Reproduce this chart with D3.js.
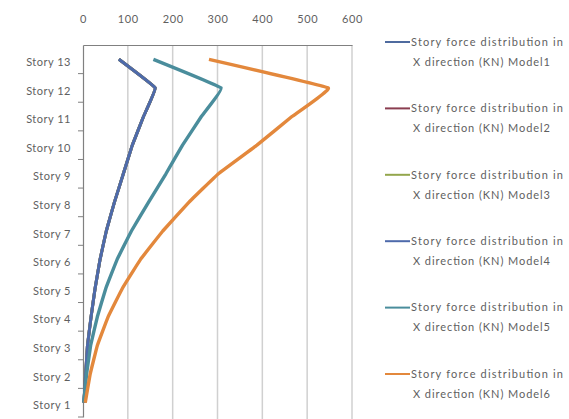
<!DOCTYPE html>
<html>
<head>
<meta charset="utf-8">
<script src="https://cdn.jsdelivr.net/npm/d3@7"></script>
<style>
  body { margin: 0; background: #fff; }
  text { font-family: Lato, "Open Sans", sans-serif; fill: #5f5f5f; }
</style>
</head>
<body>
<script>
const width = 569;
const height = 419;

// data
const stories = ["Story 1", "Story 2", "Story 3", "Story 4", "Story 5", "Story 6", "Story 7",
                 "Story 8", "Story 9", "Story 10", "Story 11", "Story 12", "Story 13"];
const xTicks = [0, 100, 200, 300, 400, 500, 600];
const model1 = [2, 6, 10, 18, 27, 38, 52, 70, 90, 110, 135, 161, 80];
const model2 = [2, 6, 10, 18, 27, 38, 52, 70, 90, 110, 135, 161, 80];
const model3 = [2, 6, 10, 18, 27, 38, 52, 70, 90, 110, 135, 161, 80];
const model4 = [2, 6, 10, 18, 27, 38, 52, 70, 90, 110, 135, 161, 80];
const model5 = [2, 8, 17, 32, 51, 76, 108, 146, 185, 222, 264, 308, 157];
const model6 = [5, 16, 32, 56, 88, 128, 178, 236, 302, 388, 466, 547, 281];
const seriesNames = [
  "Model1", "Model2", "Model3", "Model4", "Model5", "Model6"
];
const seriesValues = [model1, model2, model3, model4, model5, model6];
const seriesColors = ["#4f6b9f", "#8a3d50", "#93a64c", "#4e6aab", "#4a8d9c", "#e3883c"];

const svg = d3.select("body")
    .append("svg")
    .attr("width", width)
    .attr("height", height);

const x = d3.scaleLinear().domain([0, 600]).range([83, 352]);
const y = d3.scaleBand().domain(stories.slice().reverse()).range([45, 417]);

// vertical gridlines
svg.append("g")
    .selectAll("line")
    .data(xTicks.slice(1))
    .enter()
    .append("line")
    .attr("x1", d => x(d))
    .attr("x2", d => x(d))
    .attr("y1", 45)
    .attr("y2", height)
    .attr("stroke", "#d0d0d0")
    .attr("stroke-width", 1.5);

// top axis
const xAxis = svg.append("g")
    .attr("transform", "translate(0,45)")
    .call(d3.axisTop(x).tickValues(xTicks).tickSize(0).tickPadding(22));
xAxis.select(".domain").attr("stroke", "#808080").attr("stroke-width", 1.2);
xAxis.selectAll("text")
    .style("font-family", "Lato, 'Open Sans', sans-serif")
    .style("font-size", "11px")
    .style("letter-spacing", "0.6px")
    .attr("fill", "#5f5f5f");

// left axis
const yAxis = svg.append("g")
    .attr("transform", "translate(83,0)")
    .call(d3.axisLeft(y).tickSize(0).tickPadding(12));
yAxis.select(".domain").attr("stroke", "#808080").attr("stroke-width", 1.2);
yAxis.selectAll("text")
    .attr("dy", "0.6em")
    .style("font-family", "Lato, 'Open Sans', sans-serif")
    .style("font-size", "11px")
    .style("letter-spacing", "0.5px")
    .attr("fill", "#5f5f5f");

// category boundary ticks
svg.append("g")
    .selectAll("line")
    .data(stories)
    .enter()
    .append("line")
    .attr("x1", 78)
    .attr("x2", 83)
    .attr("y1", d => y(d) + y.bandwidth())
    .attr("y2", d => y(d) + y.bandwidth())
    .attr("stroke", "#808080");

// lightly smoothed lines
const line = d3.line()
    .x(d => x(d.v))
    .y(d => y(d.s) + y.bandwidth() / 2)
    .curve(d3.curveCardinal.tension(0.8));

seriesValues.forEach((vals, i) => {
    svg.append("path")
        .datum(vals.map((v, j) => ({ v: v, s: stories[j] })))
        .attr("d", line)
        .attr("fill", "none")
        .attr("stroke", seriesColors[i])
        .attr("stroke-width", i < 4 ? 3 : 3.4)
        .attr("stroke-linejoin", "round");
});

// legend
const legend = svg.append("g");
seriesNames.forEach((name, i) => {
    const ly = 42 + i * 66.4;
    legend.append("line")
        .attr("x1", 385)
        .attr("x2", 410)
        .attr("y1", ly)
        .attr("y2", ly)
        .attr("stroke", seriesColors[i])
        .attr("stroke-width", 2);
    legend.append("text")
        .attr("x", 411)
        .attr("y", ly)
        .attr("dy", "0.35em")
        .attr("textLength", 152)
        .attr("lengthAdjust", "spacing")
        .style("font-size", "11px")
        .text("Story force distribution in");
    legend.append("text")
        .attr("x", 413)
        .attr("y", ly + 20)
        .attr("dy", "0.35em")
        .attr("textLength", 137)
        .attr("lengthAdjust", "spacing")
        .style("font-size", "11px")
        .text("X direction (KN) " + name);
});
</script>
</body>
</html>
